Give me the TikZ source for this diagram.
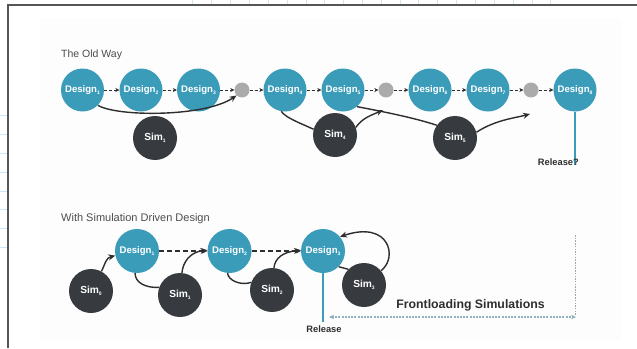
\documentclass[tikz,border=0pt]{standalone}
\usepackage{fontspec}
\setmainfont{Liberation Sans}
\usetikzlibrary{arrows.meta}

\definecolor{teal}{HTML}{3B9CBA}
\definecolor{simdark}{HTML}{373B3F}
\definecolor{dotgray}{HTML}{ABABAB}
\definecolor{ink}{HTML}{2E2E2E}
\definecolor{gridblue}{HTML}{CFE6F5}
\definecolor{framegray}{HTML}{555555}
\definecolor{spanline}{HTML}{8FB3BD}

\newcommand\idx[1]{\raisebox{-0.45ex}{\fontsize{5}{5}\selectfont #1}}

\tikzset{
  design/.style={circle, fill=teal, draw=none, minimum size=43pt, inner sep=0pt,
                 text=white, font=\bfseries\fontsize{9.6}{9.6}\selectfont},
  designb/.style={design, minimum size=44pt},
  sim/.style={circle, fill=simdark, draw=none, minimum size=44pt, inner sep=0pt,
              text=white, font=\bfseries\fontsize{10.2}{10.2}\selectfont},
  gate/.style={circle, fill=dotgray, draw=none, minimum size=15pt, inner sep=0pt},
  seq/.style={draw=ink, line width=0.9pt, dash pattern=on 3pt off 2pt,
              -{Stealth[length=4pt,width=4pt]}},
  seqlong/.style={draw=ink, line width=1.1pt, dash pattern=on 5pt off 3pt,
              -{Stealth[length=5pt,width=5pt]}},
  flow/.style={draw=ink, line width=1.4pt, -{Stealth[length=7pt,width=6pt]}},
  flowplain/.style={draw=ink, line width=1.4pt},
  release/.style={draw=teal, line width=2pt},
  caption/.style={text=ink!85, font=\fontsize{10.5}{10.5}\selectfont, anchor=west, inner sep=0pt},
  smalllabel/.style={text=ink, font=\bfseries\fontsize{9.3}{9.3}\selectfont, inner sep=0pt},
}

\begin{document}
\begin{tikzpicture}[x=1pt, y=-1pt]
  \useasboundingbox (0,0) rectangle (637,348);
  \fill[white] (0,0) rectangle (637,348);

  % grid paper showing around the sheet
  \foreach \gx in {192,211,230,249,268,287,306,324,343,362,381,400,418,437,456,475,494,513,532,550}
    \draw[gridblue, line width=0.8pt] (\gx,0) -- (\gx,5);
  \foreach \gy in {115,134,153,172,191,209,228,247}
    \draw[gridblue, line width=0.8pt] (0,\gy) -- (8,\gy);

  % sheet and its faint panel
  \fill[gray!1.5] (40,18) rectangle (621,340);
  \draw[framegray, line width=1.3pt] (8,348) -- (8,5) -- (637,5);

  % ---------------- The Old Way ----------------
  \node[caption] (oldtitle) at (61,55) {The Old Way};

  \node[design] (d1) at (82.5,90) {Design\idx{1}};
  \node[design] (d2) at (141,90)  {Design\idx{2}};
  \node[design] (d3) at (198.5,90){Design\idx{3}};
  \node[gate]   (g1) at (242,90)  {};
  \node[design] (d4) at (285,90)  {Design\idx{4}};
  \node[design] (d5) at (343,90)  {Design\idx{5}};
  \node[gate]   (g2) at (386,90)  {};
  \node[design] (d6) at (430,90)  {Design\idx{6}};
  \node[design] (d7) at (488,90)  {Design\idx{7}};
  \node[gate]   (g3) at (531,90)  {};
  \node[design] (d8) at (575,90)  {Design\idx{8}};

  \node[sim] (s1) at (155,138) {Sim\idx{1}};
  \node[sim] (s4) at (335,135) {Sim\idx{4}};
  \node[sim] (s5) at (455,138) {Sim\idx{5}};

  \foreach \a/\b in {d1/d2, d2/d3, d3/g1, g1/d4, d4/d5, d5/g2, g2/d6, d6/d7, d7/g3, g3/d8}
    \draw[seq] (\a) -- (\b);

  % simulation feedback loops
  \draw[flow] (d1.-45) .. controls (118,117) and (205,117) .. (g1.-135);

  \coordinate (e4) at (383,110);
  \draw[flowplain] (d4.-100) .. controls (286,118) and (300,123) .. (s4.165);
  \draw[flow] (s4.20) .. controls (362,118) and (372,115) .. (e4);

  \coordinate (e5) at (530,114);
  \draw[flowplain] (d5.-50) .. controls (385,112) and (415,118) .. (s5.145);
  \draw[flow] (s5.15) .. controls (495,120) and (515,118) .. (e5);

  % release
  \coordinate (r8) at (575,165);
  \draw[release] (d8.south) -- (r8);
  \node[smalllabel, anchor=base east] (rel8) at (579,165) {Release?};

  % ---------------- With Simulation Driven Design ----------------
  \node[caption, font=\fontsize{11}{11}\selectfont] (newtitle) at (61,219) {With Simulation Driven Design};

  \node[designb] (n1) at (137,251)   {Design\idx{1}};
  \node[designb] (n2) at (229.5,251) {Design\idx{2}};
  \node[designb] (n3) at (323,251)   {Design\idx{3}};

  \node[sim] (t0) at (91,291)  {Sim\idx{0}};
  \node[sim] (t1) at (180,295) {Sim\idx{1}};
  \node[sim] (t2) at (272,290) {Sim\idx{2}};
  \node[sim] (t3) at (364,285) {Sim\idx{3}};

  \draw[seqlong] (n1) -- (n2);
  \draw[seqlong] (n2) -- (n3);

  \draw[flow] (t0.62) .. controls (106,262) and (106,258) .. (n1.-168);

  \draw[flowplain] (n1.-95) .. controls (135,283) and (146,288) .. (t1.160);
  \draw[flow] (t1.85) .. controls (183,262) and (190,252) .. (n2.178);

  \draw[flowplain] (n2.-95) .. controls (228,280) and (240,286) .. (t2.160);
  \draw[flow] (t2.85) .. controls (275,258) and (283,252) .. (n3.178);

  \draw[flowplain] (n3.-45) -- (t3.135);
  \draw[flow] (t3.40) .. controls (398,258) and (390,220) .. (n3.40);

  % release and frontloaded span
  \coordinate (r3) at (323,322);
  \draw[release] (n3.south) -- (r3);
  \node[smalllabel, anchor=base] (rel3) at (324,332) {Release};

  \coordinate (fl) at (329,317);
  \coordinate (fr) at (576,317);
  \coordinate (ft) at (575,235);
  \draw[spanline, line width=1.1pt, dash pattern=on 2pt off 1.2pt,
        {Stealth[length=5pt,width=4.5pt]}-{Stealth[length=5pt,width=4.5pt]}] (fl) -- (fr);
  \draw[gray!70, line width=0.8pt, dash pattern=on 1.5pt off 1.2pt] (ft) -- (575,316);
  \node[text=ink, font=\bfseries\fontsize{12.3}{12.3}\selectfont, inner sep=0pt]
    (front) at (470.5,305) {Frontloading Simulations};
\end{tikzpicture}
\end{document}
